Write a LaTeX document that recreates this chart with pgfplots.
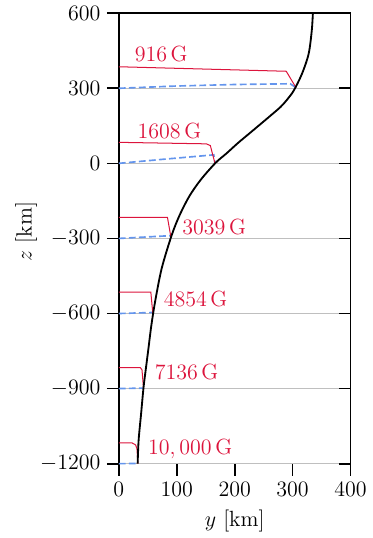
\documentclass[border=0pt]{standalone}
\usepackage{pgfplots}
\pgfplotsset{compat=1.18}
\definecolor{crim}{RGB}{220,20,60}
\definecolor{cblue}{RGB}{100,149,237}
\begin{document}
\begin{tikzpicture}
\begin{axis}[
  scale only axis,
  width=126.4pt, height=245.7pt,
  xmin=0, xmax=400, ymin=-1200, ymax=600,
  xtick={0,100,200,300,400},
  ytick={-1200,-900,-600,-300,0,300,600},
  xtick pos=bottom, ytick pos=left,
  tick align=outside,
  major tick length=6.5pt,
  every tick/.style={black, line width=0.9pt},
  axis line style={line width=0.8pt},
  /pgf/number format/1000 sep={},
  font=\large,
  tick label style={font=\large},
  xlabel={$y$ [km]}, ylabel={$z$ [km]},
  xlabel style={at={(axis description cs:0.5,-0.127)}, anchor=center},
  ylabel style={at={(axis description cs:-0.40,0.515)}, anchor=center},
  clip=false,
]
\path (rel axis cs:0,0) ++(-64.8pt,-38.3pt) coordinate (bbsw);
\path (rel axis cs:1,1) ++(10.3pt,6.5pt) coordinate (bbne);
% grey reference lines
\addplot[black!25, line width=0.7pt] coordinates {(0,300)(380,300)};
\addplot[black!25, line width=0.7pt] coordinates {(0,0)(380,0)};
\addplot[black!25, line width=0.7pt] coordinates {(0,-300)(380,-300)};
\addplot[black!25, line width=0.7pt] coordinates {(0,-600)(380,-600)};
\addplot[black!25, line width=0.7pt] coordinates {(0,-900)(380,-900)};
\addplot[black!25, line width=0.7pt] coordinates {(0,-1200)(380,-1200)};
% blue dashed
\pgfplotsset{bl/.style={cblue, line width=0.9pt, dash pattern=on 3.7pt off 1.8pt}}
\addplot[bl] coordinates {(0,300)(100,309)(200,315)(296,318)(306,302)};
\addplot[bl] coordinates {(0,0)(80,17)(164,34)(166,0)};
\addplot[bl] coordinates {(0,-300)(89,-289)};
\addplot[bl] coordinates {(0,-600)(58,-596)};
\addplot[bl] coordinates {(0,-900)(42.5,-898)};
\addplot[bl] coordinates {(0,-1200)(32,-1199)};
% red
\addplot[crim, line width=0.55pt] coordinates {(0,386)(289,368)(306,302)};
\addplot[crim, line width=0.55pt] coordinates {(0,84)(151,78)(158,71)(166,0)};
\addplot[crim, line width=0.55pt] coordinates {(0,-216)(84,-216)(90,-296)};
\addplot[crim, line width=0.55pt] coordinates {(0,-515)(55.3,-515)(58.7,-600)};
\addplot[crim, line width=0.55pt] coordinates {(0,-816)(37,-816)(40,-825)(42.7,-900)};
\addplot[crim, line width=0.55pt] coordinates {(0,-1117)(22.8,-1117)(29,-1125)(31.3,-1140)(33,-1200)};
% black profile
\addplot[black, line width=1pt, smooth, tension=0.5] coordinates {
(32.5,-1200)(34.2,-1106)(38.5,-1000)(42.7,-895)(47,-815)(51.3,-737)(56,-650)(62.7,-552)(74,-420)(91,-289)(104.4,-210)(121.8,-131)(141.6,-65)(167,2)(186,40)(205,80)(222,113)(239,146)(260,187)(279,225)(290.6,255)(302,291)(316,357)(327.6,437)(333,529)(335,600)};
% labels
\node[crim, anchor=west, inner sep=0pt] at (axis cs:27,438) {$916\,\mathrm{G}$};
\node[crim, anchor=west, inner sep=0pt] at (axis cs:32,129) {$1608\,\mathrm{G}$};
\node[crim, anchor=west, inner sep=0pt] at (axis cs:109,-254) {$3039\,\mathrm{G}$};
\node[crim, anchor=west, inner sep=0pt] at (axis cs:77,-542) {$4854\,\mathrm{G}$};
\node[crim, anchor=west, inner sep=0pt] at (axis cs:61.5,-832) {$7136\,\mathrm{G}$};
\node[crim, anchor=west, inner sep=0pt] at (axis cs:50,-1143) {$10,000\,\mathrm{G}$};
\end{axis}
% right-hand inner ticks
\begin{axis}[
  scale only axis,
  width=126.4pt, height=245.7pt,
  xmin=0, xmax=400, ymin=-1200, ymax=600,
  ytick={-1200,-900,-600,-300,0,300,600},
  axis x line=none, axis y line*=right,
  tick align=inside, major tick length=6.5pt,
  every tick/.style={black, line width=0.9pt},
  axis line style={line width=0.8pt, -},
  yticklabels={},
]
\end{axis}
\path (bbsw) rectangle (bbne);
\end{tikzpicture}
\end{document}
